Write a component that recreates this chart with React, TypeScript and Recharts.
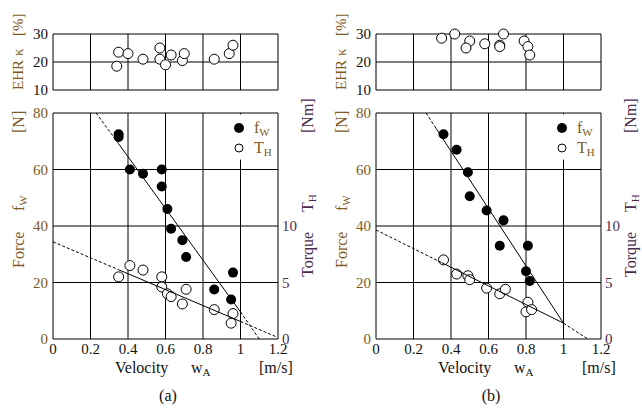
import React from 'react';
import { ScatterChart, Scatter, XAxis, YAxis, CartesianGrid, ReferenceArea } from 'recharts';

const FONT = "'Liberation Serif', 'Times New Roman', 'DejaVu Serif', serif";
const BROWN = '#7d5a24';
const PURPLE = '#4b2c4f';
const INK = '#111';

const velTicks = [0, 0.2, 0.4, 0.6, 0.8, 1, 1.2];
const forceTicks = [0, 20, 40, 60, 80];
const torqueTicks = [0, 5, 10];
const ehrTicks = [10, 20, 30];

// (a) EHR kappa [%]
const ehrVelA = [0.35, 0.34, 0.40, 0.48, 0.57, 0.57, 0.60, 0.63, 0.69, 0.70, 0.86, 0.94, 0.96];
const ehrValA = [23.5, 18.5, 23, 21, 25, 21, 19, 22.5, 20.5, 23, 21, 23, 26];
// (a) force f_W [N]
const forceVelA = [0.35, 0.35, 0.41, 0.48, 0.58, 0.58, 0.61, 0.63, 0.69, 0.71, 0.86, 0.96, 0.95];
const forceValA = [72.5, 71.5, 60, 58.5, 60, 54, 46, 39, 35, 29, 17.5, 23.5, 14];
// (a) torque T_H [Nm]
const torqueVelA = [0.35, 0.41, 0.48, 0.58, 0.58, 0.61, 0.63, 0.69, 0.71, 0.86, 0.96, 0.95];
const torqueValA = [5.5, 6.5, 6.1, 5.5, 4.6, 4.0, 3.75, 3.1, 4.4, 2.6, 2.25, 1.4];
// (a) fitted lines, segment styles between consecutive points
const fitForceVelA = [0.23, 0.35, 1.0, 1.1];
const fitForceValA = [80, 69.1, 9.6, 0];
const fitForceStyleA = ['dash', 'solid', 'dash'];
const fitTorqueVelA = [0, 0.35, 1.0, 1.19];
const fitTorqueValA = [8.6, 6.13, 1.55, 0.2];
const fitTorqueStyleA = ['dash', 'solid', 'dash'];

// (b)
const ehrVelB = [0.35, 0.42, 0.50, 0.48, 0.58, 0.66, 0.66, 0.68, 0.79, 0.81, 0.82];
const ehrValB = [28.5, 30, 27.5, 25, 26.5, 26, 25.5, 30, 27.5, 25.5, 22.5];
const forceVelB = [0.36, 0.43, 0.49, 0.50, 0.59, 0.68, 0.66, 0.81, 0.80, 0.82];
const forceValB = [72.5, 67, 59, 50.5, 45.5, 42, 33, 33, 24, 20.5];
const torqueVelB = [0.36, 0.43, 0.49, 0.50, 0.59, 0.66, 0.69, 0.81, 0.80, 0.83];
const torqueValB = [7.0, 5.75, 5.6, 5.25, 4.5, 4.0, 4.4, 3.25, 2.4, 2.6];
const fitForceVelB = [0.267, 0.32, 1.0];
const fitForceValB = [80, 74.6, 5.6];
const fitForceStyleB = ['dash', 'solid'];
const fitTorqueVelB = [0, 0.35, 1.0, 1.13];
const fitTorqueValB = [9.65, 6.76, 1.4, 0];
const fitTorqueStyleB = ['dash', 'solid', 'dash'];

const pts = (xs: number[], ys: number[]) => xs.map((x, i) => ({ x, y: ys[i] }));

const Filled = (p: any) => <circle cx={p.cx} cy={p.cy} r={5} fill="#000" />;
const Open = (p: any) => <circle cx={p.cx} cy={p.cy} r={5} fill="#fff" stroke="#000" strokeWidth={1} />;
const NoDot = () => <g />;

const fitSegments = (vel: number[], val: number[], styles: string[], axis: string, key: string) =>
  styles.map((s, i) => (
    <Scatter
      key={key + i}
      yAxisId={axis}
      data={pts(vel.slice(i, i + 2), val.slice(i, i + 2))}
      shape={NoDot}
      line={{ stroke: '#000', strokeWidth: 1, strokeDasharray: s === 'dash' ? '3 2' : undefined }}
      isAnimationActive={false}
    />
  ));

interface PanelProps {
  ox: number;
  tag: string;
  ehr: { x: number; y: number }[];
  force: { x: number; y: number }[];
  torque: { x: number; y: number }[];
  fitF: [number[], number[], string[]];
  fitT: [number[], number[], string[]];
}

const W = 320;
const tickFont = { fontSize: 15, fontFamily: FONT };

const Panel = ({ ox, tag, ehr, force, torque, fitF, fitT }: PanelProps) => (
  <>
    <div style={{ position: 'absolute', left: ox, top: 0 }}>
      <ScatterChart width={W} height={100} margin={{ top: 34, right: 42, bottom: 10, left: 0 }} style={{ fontFamily: FONT }}>
        <CartesianGrid stroke="#000" strokeWidth={1} />
        <XAxis type="number" dataKey="x" domain={[0, 1.2]} ticks={velTicks} hide />
        <YAxis
          type="number" dataKey="y" domain={[10, 30]} ticks={ehrTicks} width={53}
          tickSize={0} tickMargin={5} axisLine={false}
          tick={{ ...tickFont, fill: INK }}
        />
        <Scatter data={ehr} shape={Open} isAnimationActive={false} />
      </ScatterChart>
    </div>
    <div style={{ position: 'absolute', left: ox, top: 100 }}>
      <ScatterChart width={W} height={260} margin={{ top: 13, right: 0, bottom: 1, left: 0 }} style={{ fontFamily: FONT }}>
        <CartesianGrid stroke="#000" strokeWidth={1} yAxisId="left" />
        <XAxis
          type="number" dataKey="x" domain={[0, 1.2]} ticks={velTicks} height={20}
          tickSize={0} tickMargin={4} axisLine={false}
          tick={{ ...tickFont, fill: INK }}
        />
        <YAxis
          yAxisId="left" type="number" dataKey="y" domain={[0, 80]} ticks={forceTicks} width={53}
          tickSize={0} tickMargin={5} axisLine={false}
          tick={{ ...tickFont, fill: BROWN }}
        />
        <YAxis
          yAxisId="right" orientation="right" type="number" dataKey="y" domain={[0, 20]} ticks={torqueTicks}
          width={42} tickSize={0} tickMargin={4} axisLine={false}
          tick={{ ...tickFont, fill: PURPLE }}
        />
        <ReferenceArea yAxisId="left" x1={0.95} x2={1.05} y1={63.5} y2={79.5} fill="#fff" fillOpacity={1} stroke="none" />
        <Scatter yAxisId="left" data={force} shape={Filled} isAnimationActive={false} />
        <Scatter yAxisId="right" data={torque} shape={Open} isAnimationActive={false} />
        {fitSegments(fitF[0], fitF[1], fitF[2], 'left', 'f')}
        {fitSegments(fitT[0], fitT[1], fitT[2], 'right', 't')}
      </ScatterChart>
    </div>
    <svg
      width={W} height={408}
      style={{ position: 'absolute', left: ox, top: 0, pointerEvents: 'none' }}
      fontFamily={FONT}
    >
      {/* EHR label */}
      <g fill={BROWN} fontSize={15}>
        <text transform="translate(23,90) rotate(-90)">EHR</text>
        <text transform="translate(23,56) rotate(-90)">κ</text>
        <text transform="translate(23,36) rotate(-90)">[%]</text>
      </g>
      {/* force label */}
      <g fill={BROWN} fontSize={16}>
        <text transform="translate(24,268) rotate(-90)">Force</text>
        <text transform="translate(24,211) rotate(-90)">f<tspan fontSize={11} dy={3}>W</tspan></text>
        <text transform="translate(24,133) rotate(-90)">[N]</text>
      </g>
      {/* torque label */}
      <g fill={PURPLE} fontSize={16}>
        <text transform="translate(313,277) rotate(-90)">Torque</text>
        <text transform="translate(313,212) rotate(-90)">T<tspan fontSize={11} dy={3}>H</tspan></text>
        <text transform="translate(313,133) rotate(-90)">[Nm]</text>
      </g>
      {/* legend */}
      <circle cx={239} cy={128} r={5} fill="#000" />
      <circle cx={239} cy={148} r={4} fill="#fff" stroke="#000" />
      <g fill={BROWN} fontSize={16}>
        <text x={254} y={133}>f<tspan fontSize={11} dy={3}>W</tspan></text>
        <text x={254} y={153}>T<tspan fontSize={11} dy={3}>H</tspan></text>
      </g>
      {/* x label */}
      <g fill={INK} fontSize={16}>
        <text x={115} y={373}>Velocity</text>
        <text x={191} y={373}>w<tspan fontSize={11} dy={3}>A</tspan></text>
        <text x={259} y={373}>[m/s]</text>
        <text x={168} y={401} textAnchor="middle">{tag}</text>
      </g>
    </svg>
  </>
);

export default function App() {
  return (
    <div style={{ position: 'fixed', left: 0, top: 0, width: 642, height: 408, background: '#fff', overflow: 'hidden', fontFamily: FONT }}>
      <Panel
        ox={0}
        tag="(a)"
        ehr={pts(ehrVelA, ehrValA)}
        force={pts(forceVelA, forceValA)}
        torque={pts(torqueVelA, torqueValA)}
        fitF={[fitForceVelA, fitForceValA, fitForceStyleA]}
        fitT={[fitTorqueVelA, fitTorqueValA, fitTorqueStyleA]}
      />
      <Panel
        ox={323}
        tag="(b)"
        ehr={pts(ehrVelB, ehrValB)}
        force={pts(forceVelB, forceValB)}
        torque={pts(torqueVelB, torqueValB)}
        fitF={[fitForceVelB, fitForceValB, fitForceStyleB]}
        fitT={[fitTorqueVelB, fitTorqueValB, fitTorqueStyleB]}
      />
    </div>
  );
}
